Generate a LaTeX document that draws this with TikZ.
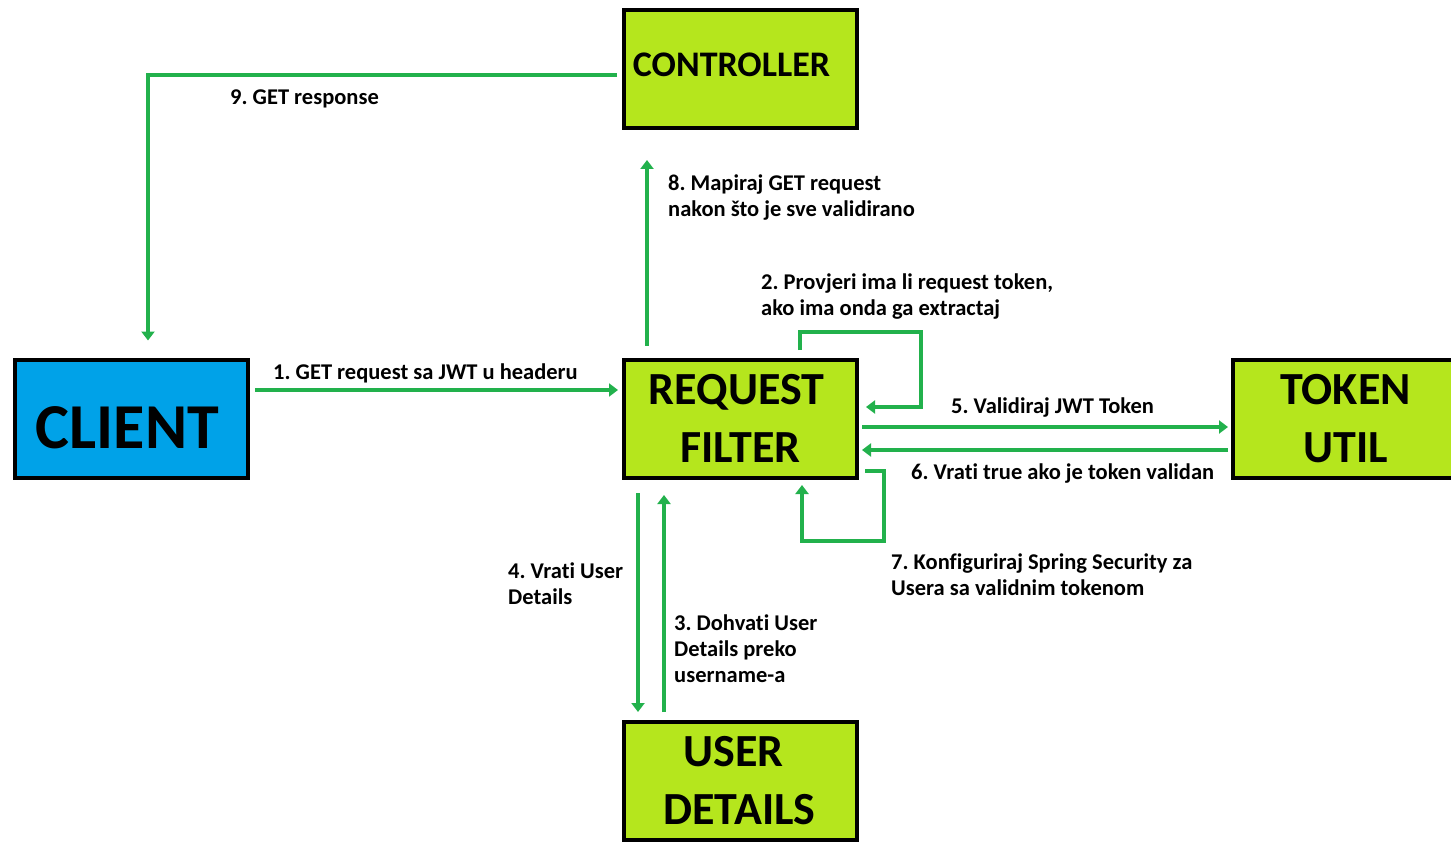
\documentclass[tikz,border=0pt]{standalone}
\usepackage{fontspec}
\setmainfont[Ligatures=NoCommon]{Carlito}
\usetikzlibrary{positioning,arrows.meta}
\definecolor{boxgreen}{HTML}{B5E61D}
\definecolor{clientblue}{HTML}{00A2E8}
\definecolor{flowgreen}{HTML}{22B14C}
\frenchspacing
\begin{document}
\begin{tikzpicture}[x=1pt,y=-1pt,
		main node/.style = {rectangle,draw=black,line width=4pt,fill=boxgreen,inner sep=0pt,outer sep=0pt,
			minimum width=233pt,minimum height=118pt,align=center,font=\bfseries\fontsize{46}{58}\selectfont},
		flow/.style = {draw=flowgreen,line width=4pt,-{Triangle[length=9pt,width=13pt]}},
		step label/.style = {anchor=west,align=left,inner sep=0pt,font=\bfseries\fontsize{22.5}{26}\selectfont}]
	\useasboundingbox (0,0) rectangle (1451,842);
	
	\node[main node] (filter) at (740.5,418.5) {REQUEST\hspace*{8pt}\\FILTER};
	\node[main node,fill=clientblue,font=\bfseries\fontsize{64}{70}\selectfont,text height=61pt] [left=376pt of filter] (client) {CLIENT\hspace*{8pt}};
	\node[main node,minimum width=225pt] [right=376pt of filter] (token) {TOKEN\\UTIL};
	\node[main node,font=\bfseries\fontsize{36}{40}\selectfont,text depth=8pt] [above=231.5pt of filter] (ctrl) {CONTROLLER\hspace*{18pt}};
	\node[main node] [below=244.5pt of filter] (user) {USER\hspace*{14pt}\\DETAILS\hspace*{2pt}};
	
	\draw[flow] ([xshift=7pt,yshift=28.5pt]client.east) -- ([xshift=-6pt,yshift=28.5pt]filter.west);
	\draw[flow] ([xshift=59.5pt,yshift=9.5pt]filter.north) -- ++(0,-18) -- ++(121,0) |- ([xshift=9pt,yshift=11.5pt]filter.east);
	\draw[flow] ([xshift=-76.5pt,yshift=10pt]user.north) -- ([xshift=-76.5pt,yshift=-17.5pt]filter.south);
	\draw[flow] ([xshift=-102.5pt,yshift=-15.5pt]filter.south) -- ([xshift=-102.5pt,yshift=10pt]user.north);
	\draw[flow] ([xshift=5pt,yshift=-8.5pt]filter.east) -- ([xshift=-5pt,yshift=-8.5pt]token.west);
	\draw[flow] ([xshift=-5pt,yshift=-31.5pt]token.west) -- ([xshift=5pt,yshift=-31.5pt]filter.east);
	\draw[flow] ([xshift=8pt,yshift=-52.5pt]filter.east) -- ++(19,0) -- ++(0,70) -| ([xshift=61.5pt,yshift=-7.5pt]filter.south);
	\draw[flow] ([xshift=-93.5pt,yshift=14pt]filter.north) -- ([xshift=-93.5pt,yshift=-32pt]ctrl.south);
	\draw[flow] ([xshift=-7pt,yshift=-6pt]ctrl.west) -| ([xshift=16.5pt,yshift=19pt]client.north);
	
	\node[step label] (l1) at (273,373) {1. GET request sa JWT u headeru};
	\node[step label] (l2) at (761,297) {2. Provjeri ima li request token,\\ako ima onda ga extractaj};
	\node[step label] (l3) at (674,649) {3. Dohvati User\\Details preko\\username-a};
	\node[step label] (l4) at (508,584) {4. Vrati User\\Details};
	\node[step label] (l5) at (951,408) {5. Validiraj JWT Token};
	\node[step label] (l6) at (911,474) {6. Vrati true ako je token validan};
	\node[step label] (l7) at (891,575) {7. Konfiguriraj Spring Security za\\Usera sa validnim tokenom};
	\node[step label] (l8) at (668,198) {8. Mapiraj GET request\\nakon što je sve validirano};
	\node[step label] (l9) at (230,99) {9. GET response};
\end{tikzpicture}
\end{document}
